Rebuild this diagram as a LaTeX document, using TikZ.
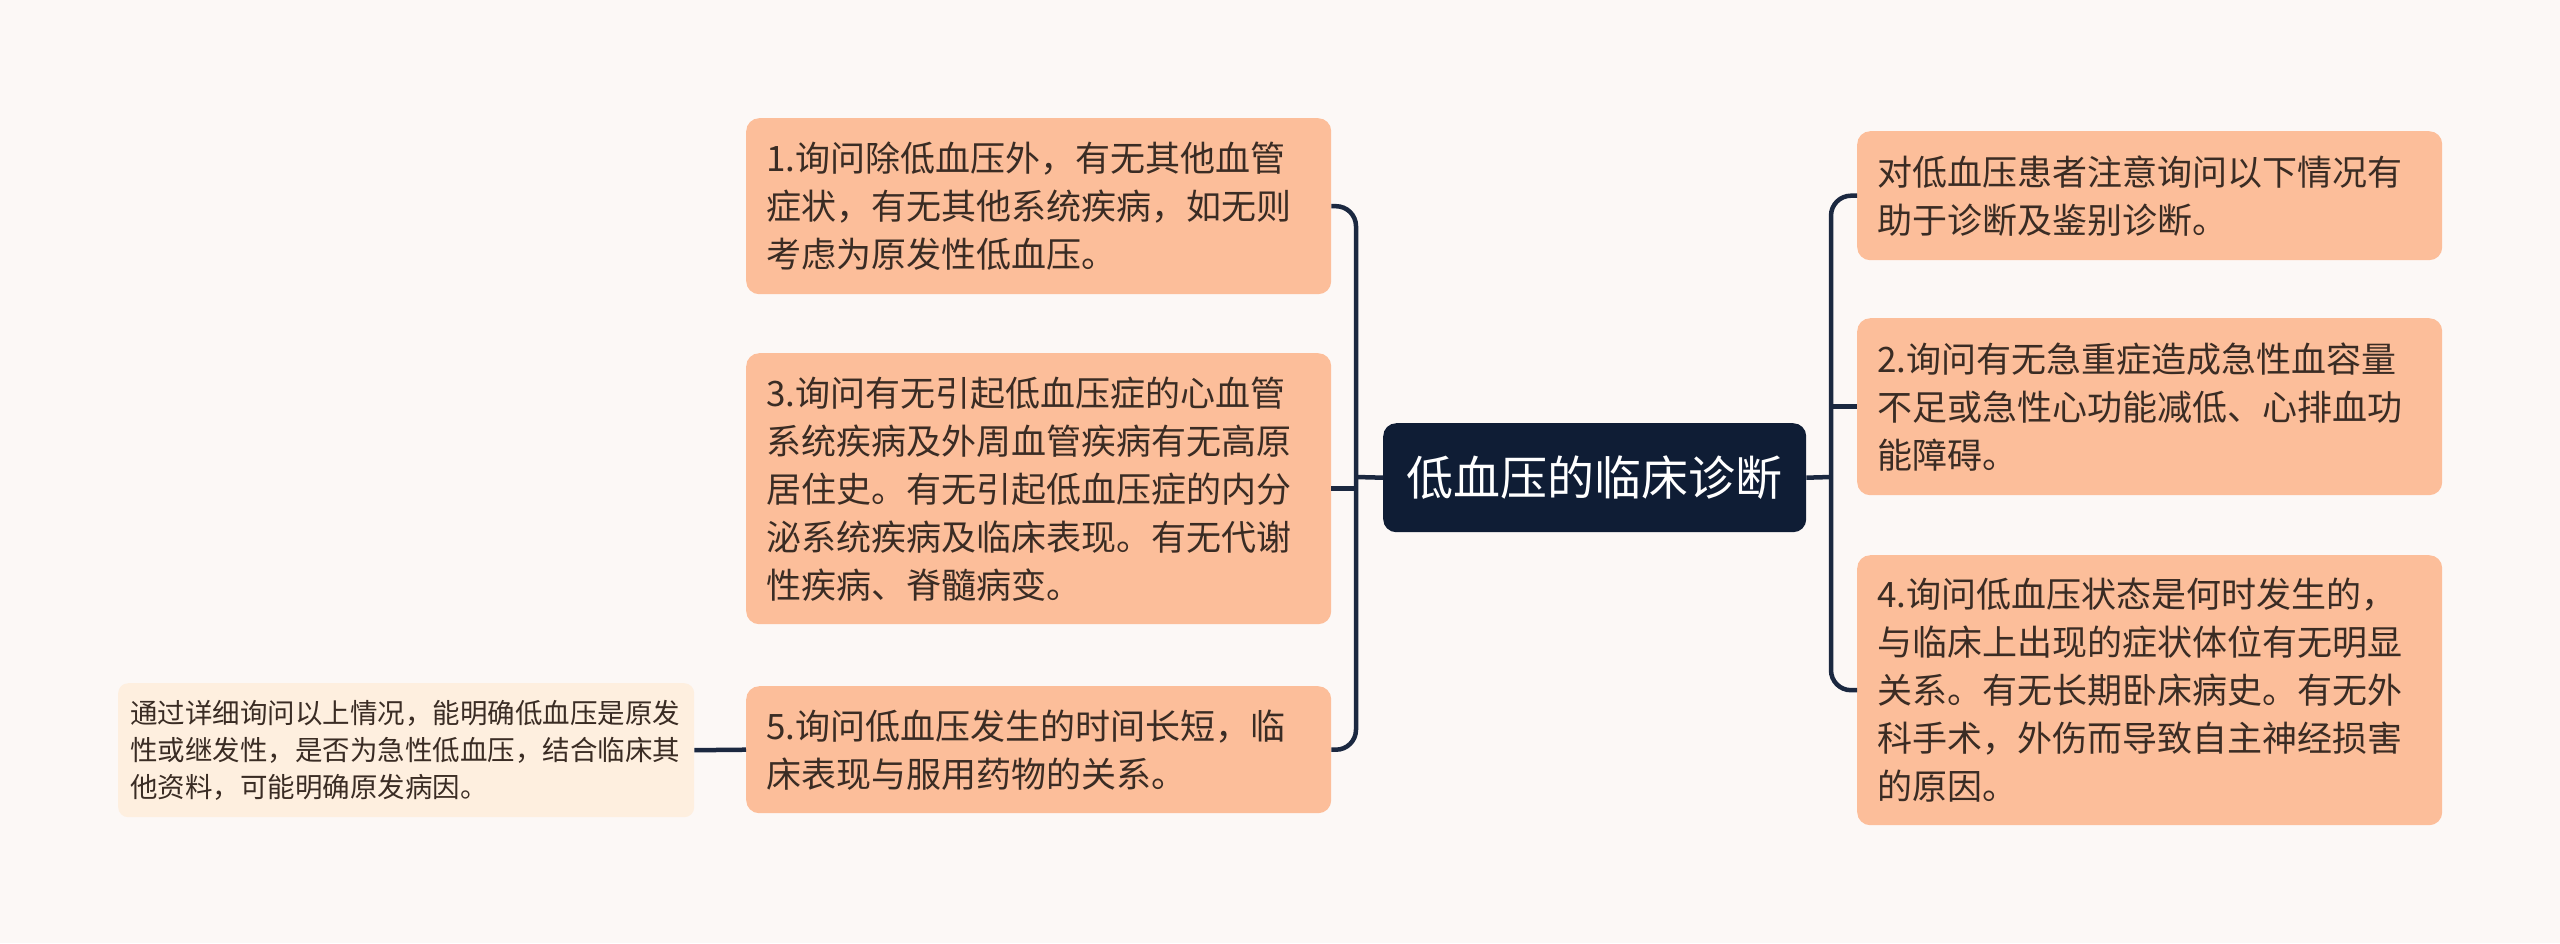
\documentclass[tikz,border=0pt]{standalone}
\usepackage{fontspec}
\setmainfont{Noto Sans CJK SC}
\definecolor{bg}{HTML}{FCF8F6}
\definecolor{peach}{HTML}{FCBE9A}
\definecolor{notec}{HTML}{FEEFDF}
\definecolor{navy}{HTML}{0F1D35}
\definecolor{linec}{HTML}{1B2840}
\definecolor{txt}{HTML}{3A2C24}
\tikzset{
  box/.style={fill=peach, rounded corners=13pt, anchor=north west, inner xsep=20pt, inner ysep=0pt,
    text width=545pt, align=left, text=txt, font=\fontsize{35pt}{48pt}\selectfont},
  notebox/.style={fill=notec, rounded corners=10pt, anchor=north west, inner xsep=12pt, inner ysep=0pt,
    text width=552pt, align=left, text=txt, font=\fontsize{27.5pt}{37pt}\selectfont},
  rootbox/.style={fill=navy, rounded corners=13pt, anchor=north west, inner sep=0pt,
    text=white, font=\fontsize{47pt}{56pt}\selectfont},
  conn/.style={draw=linec, line width=4.5pt, rounded corners=20pt}
}
\begin{document}
\begin{tikzpicture}[x=1pt,y=-1pt]
\fill[bg] (0,0) rectangle (2560,943);
\useasboundingbox (0,0) rectangle (2560,943);

\node[rootbox, minimum width=423pt, minimum height=109pt] (c) at (1383,423) {低血压的临床诊断};

\node[box, minimum width=585pt, minimum height=176pt] (b1) at (746,118)
  {1.询问除低血压外，有无其他血管\\症状，有无其他系统疾病，如无则\\考虑为原发性低血压。};
\node[box, minimum width=585pt, minimum height=271pt] (b3) at (746,353)
  {3.询问有无引起低血压症的心血管\\系统疾病及外周血管疾病有无高原\\居住史。有无引起低血压症的内分\\泌系统疾病及临床表现。有无代谢\\性疾病、脊髓病变。};
\node[box, minimum width=585pt, minimum height=127pt] (b5) at (746,686)
  {5.询问低血压发生的时间长短，临\\床表现与服用药物的关系。};
\node[notebox, minimum width=576pt, minimum height=134pt] (n) at (118,683)
  {通过详细询问以上情况，能明确低血压是原发\\性或继发性，是否为急性低血压，结合临床其\\他资料，可能明确原发病因。};

\node[box, minimum width=584pt, minimum height=129pt] (ra) at (1857,131)
  {对低血压患者注意询问以下情况有\\助于诊断及鉴别诊断。};
\node[box, minimum width=584pt, minimum height=177pt] (r2) at (1857,318)
  {2.询问有无急重症造成急性血容量\\不足或急性心功能减低、心排血功\\能障碍。};
\node[box, minimum width=584pt, minimum height=270pt] (r4) at (1857,555)
  {4.询问低血压状态是何时发生的，\\与临床上出现的症状体位有无明显\\关系。有无长期卧床病史。有无外\\科手术，外伤而导致自主神经损害\\的原因。};

\coordinate (lj) at (1356,477);
\coordinate (rj) at (1831,477);

\draw[conn] (c.west) -- (lj);
\draw[conn] (b1.east) -| (lj) |- (b5.east);
\draw[conn] (b3.east -| lj) -- (b3.east);
\draw[conn] (c.east) -- (rj);
\draw[conn] (ra.west) -| (rj) |- (r4.west);
\draw[conn] (r2.west -| rj) -- (r2.west);
\draw[conn] (n.east) -- (b5.west);
\end{tikzpicture}
\end{document}
